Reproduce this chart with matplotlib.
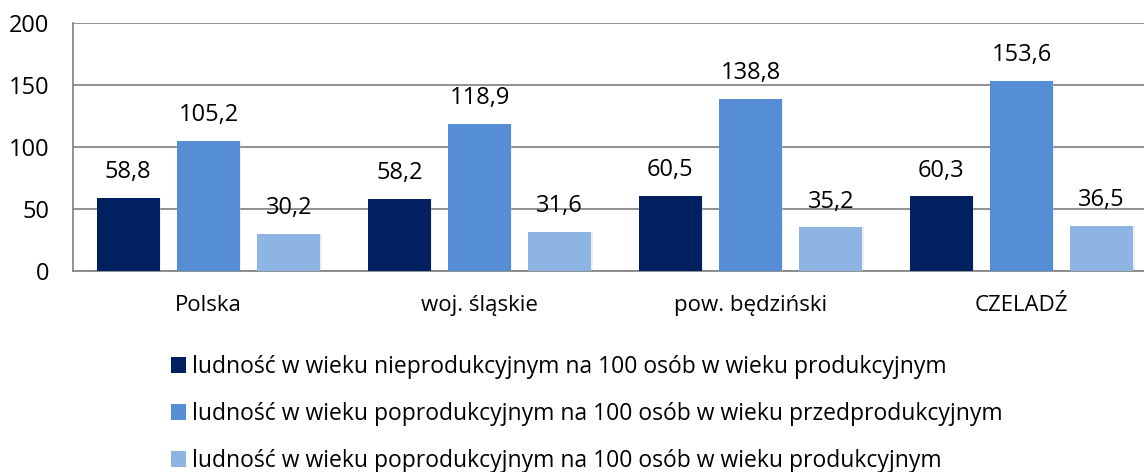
import numpy as np
import matplotlib.pyplot as plt
from matplotlib.patches import Patch

plt.rcParams['font.family'] = ['Open Sans', 'DejaVu Sans']

categories = ['Polska', 'woj. śląskie', 'pow. będziński', 'CZELADŹ']
series_names = [
    'ludność w wieku nieprodukcyjnym na 100 osób w wieku produkcyjnym',
    'ludność w wieku poprodukcyjnym na 100 osób w wieku przedprodukcyjnym',
    'ludność w wieku poprodukcyjnym na 100 osób w wieku produkcyjnym',
]
nieprod = [58.8, 58.2, 60.5, 60.3]
poprod_przed = [105.2, 118.9, 138.8, 153.6]
poprod_prod = [30.2, 31.6, 35.2, 36.5]
colors = ['#002060', '#558ED5', '#8EB4E3']

fig = plt.figure(figsize=(11.44, 4.72), dpi=100)
# plot area runs past the right edge of the figure, as in the reference
ax = fig.add_axes([73 / 1144, 1 - 271 / 472, 1084 / 1144, 248 / 472])

x = np.arange(len(categories))
w = 0.234
step = 0.296
for i, (vals, col) in enumerate(zip([nieprod, poprod_przed, poprod_prod], colors)):
    pos = x + (i - 1) * step
    ax.bar(pos + 0.004, vals, w, color='#cccccc', alpha=0.3, zorder=2)
    ax.bar(pos, vals, w, color=col, zorder=3)
    for p, v in zip(pos, vals):
        ax.text(p, v + 11, f'{v:.1f}'.replace('.', ','), ha='center', va='bottom',
                fontsize=17, color='black')

ax.set_xlim(-0.5, len(categories) - 0.5)
ax.set_ylim(0, 200)
ax.set_yticks([0, 50, 100, 150, 200])
ax.yaxis.grid(True, color='#888888', lw=1.3, zorder=0)
ax.set_axisbelow(True)
for s in ['top', 'right']:
    ax.spines[s].set_visible(False)
ax.spines['left'].set_color('#888888')
ax.spines['bottom'].set_color('#888888')
ax.spines['left'].set_linewidth(1.3)
ax.spines['bottom'].set_linewidth(1.3)
ax.tick_params(axis='y', length=0, labelsize=17, pad=17)
ax.tick_params(axis='x', length=0, labelsize=16, pad=17)
ax.set_xticks(x)
ax.set_xticklabels(categories)

handles = [Patch(facecolor=c) for c in colors]
fig.legend(handles, series_names, loc='upper left', bbox_to_anchor=(162 / 1144, 1 - 346 / 472),
           frameon=False, fontsize=16.5, handlelength=0.65, handleheight=0.65,
           handletextpad=0.25, labelspacing=1.0, borderaxespad=0)

fig.savefig('out.png', dpi=100)
